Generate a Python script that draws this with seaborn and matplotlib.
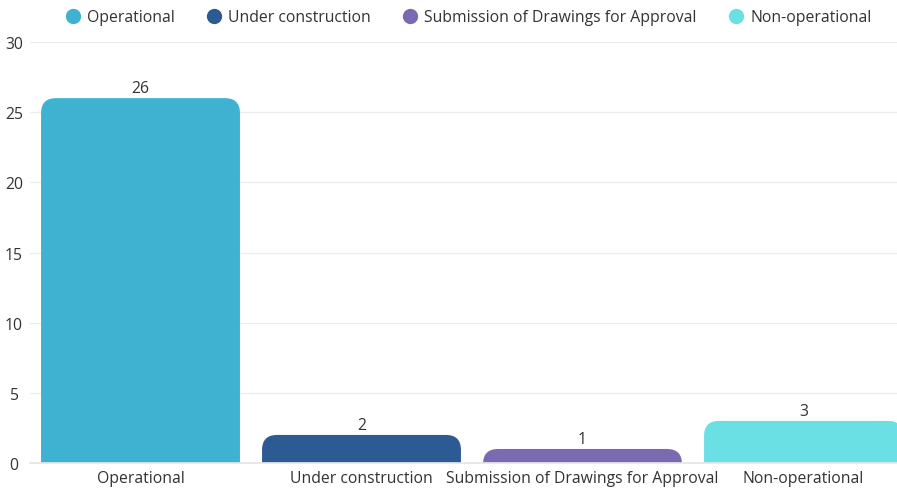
import matplotlib
matplotlib.use("Agg")
import matplotlib.pyplot as plt
from matplotlib.patches import FancyBboxPatch
from matplotlib.lines import Line2D
import seaborn as sns
import pandas as pd

categories = ["Operational", "Under construction", "Submission of Drawings for Approval", "Non-operational"]
counts = [26, 2, 1, 3]
colors = ["#3eb2d0", "#2c5b93", "#7a6aaf", "#6ae0e4"]
y_ticks = [0, 5, 10, 15, 20, 25, 30]

sns.set_theme(style="white")
plt.rcParams["font.family"] = ["Open Sans", "DejaVu Sans"]
text_color = "#333333"
fs = 11.3

df = pd.DataFrame({"category": categories, "count": counts})

fig = plt.figure(figsize=(8.97, 4.89), dpi=100)
ax = fig.add_axes([30 / 897, 25 / 489, 1 - 30 / 897, (464 - 43) / 489])

sns.barplot(data=df, x="category", y="count", hue="category", palette=colors,
            width=0.9, saturation=1, legend=False, ax=ax)

ax.set_ylim(0, 30)
ax.set_xlim(-0.5, 3.423)

# swap plain rectangles for bars with rounded top corners
fig.canvas.draw()
px_x = ax.transData.transform((1, 0))[0] - ax.transData.transform((0, 0))[0]
px_y = ax.transData.transform((0, 1))[1] - ax.transData.transform((0, 0))[1]
aspect = px_x / px_y
radius_px = 15
r_x = radius_px / px_x
r_y = radius_px / px_y
for patch in list(ax.patches):
    x0, w = patch.get_x(), patch.get_width()
    h = patch.get_height()
    fc = patch.get_facecolor()
    patch.remove()
    rb = FancyBboxPatch((x0, -r_y), w, h + r_y,
                        boxstyle=f"round,pad=0,rounding_size={r_x}",
                        mutation_aspect=aspect,
                        facecolor=fc, edgecolor="none", clip_on=True, zorder=2)
    ax.add_patch(rb)

for i, v in enumerate(counts):
    ax.text(i, v + 0.12, str(v), ha="center", va="bottom", fontsize=fs, color=text_color)

ax.set_yticks(y_ticks)
ax.yaxis.grid(True, color="#ececec", linewidth=0.9, zorder=0)
ax.set_axisbelow(True)
for s in ["left", "right", "top"]:
    ax.spines[s].set_visible(False)
ax.spines["bottom"].set_color("#e6e6e6")
ax.tick_params(axis="both", length=0, labelsize=fs, colors=text_color)
ax.tick_params(axis="y", pad=4)
ax.tick_params(axis="x", pad=5)
for lbl in ax.get_yticklabels():
    lbl.set_horizontalalignment("center")
    lbl.set_x(-0.012)
ax.set_xlabel("")
ax.set_ylabel("")

handles = [Line2D([0], [0], marker="o", linestyle="", markersize=10,
                  markerfacecolor=c, markeredgecolor=c) for c in colors]
fig.legend(handles, categories, loc="upper center", bbox_to_anchor=(0.522, 1.008),
           ncol=4, frameon=False, fontsize=fs, handlelength=1.0, handletextpad=0.4,
           columnspacing=2.0, labelcolor=text_color)

fig.savefig("out.png", dpi=100)
